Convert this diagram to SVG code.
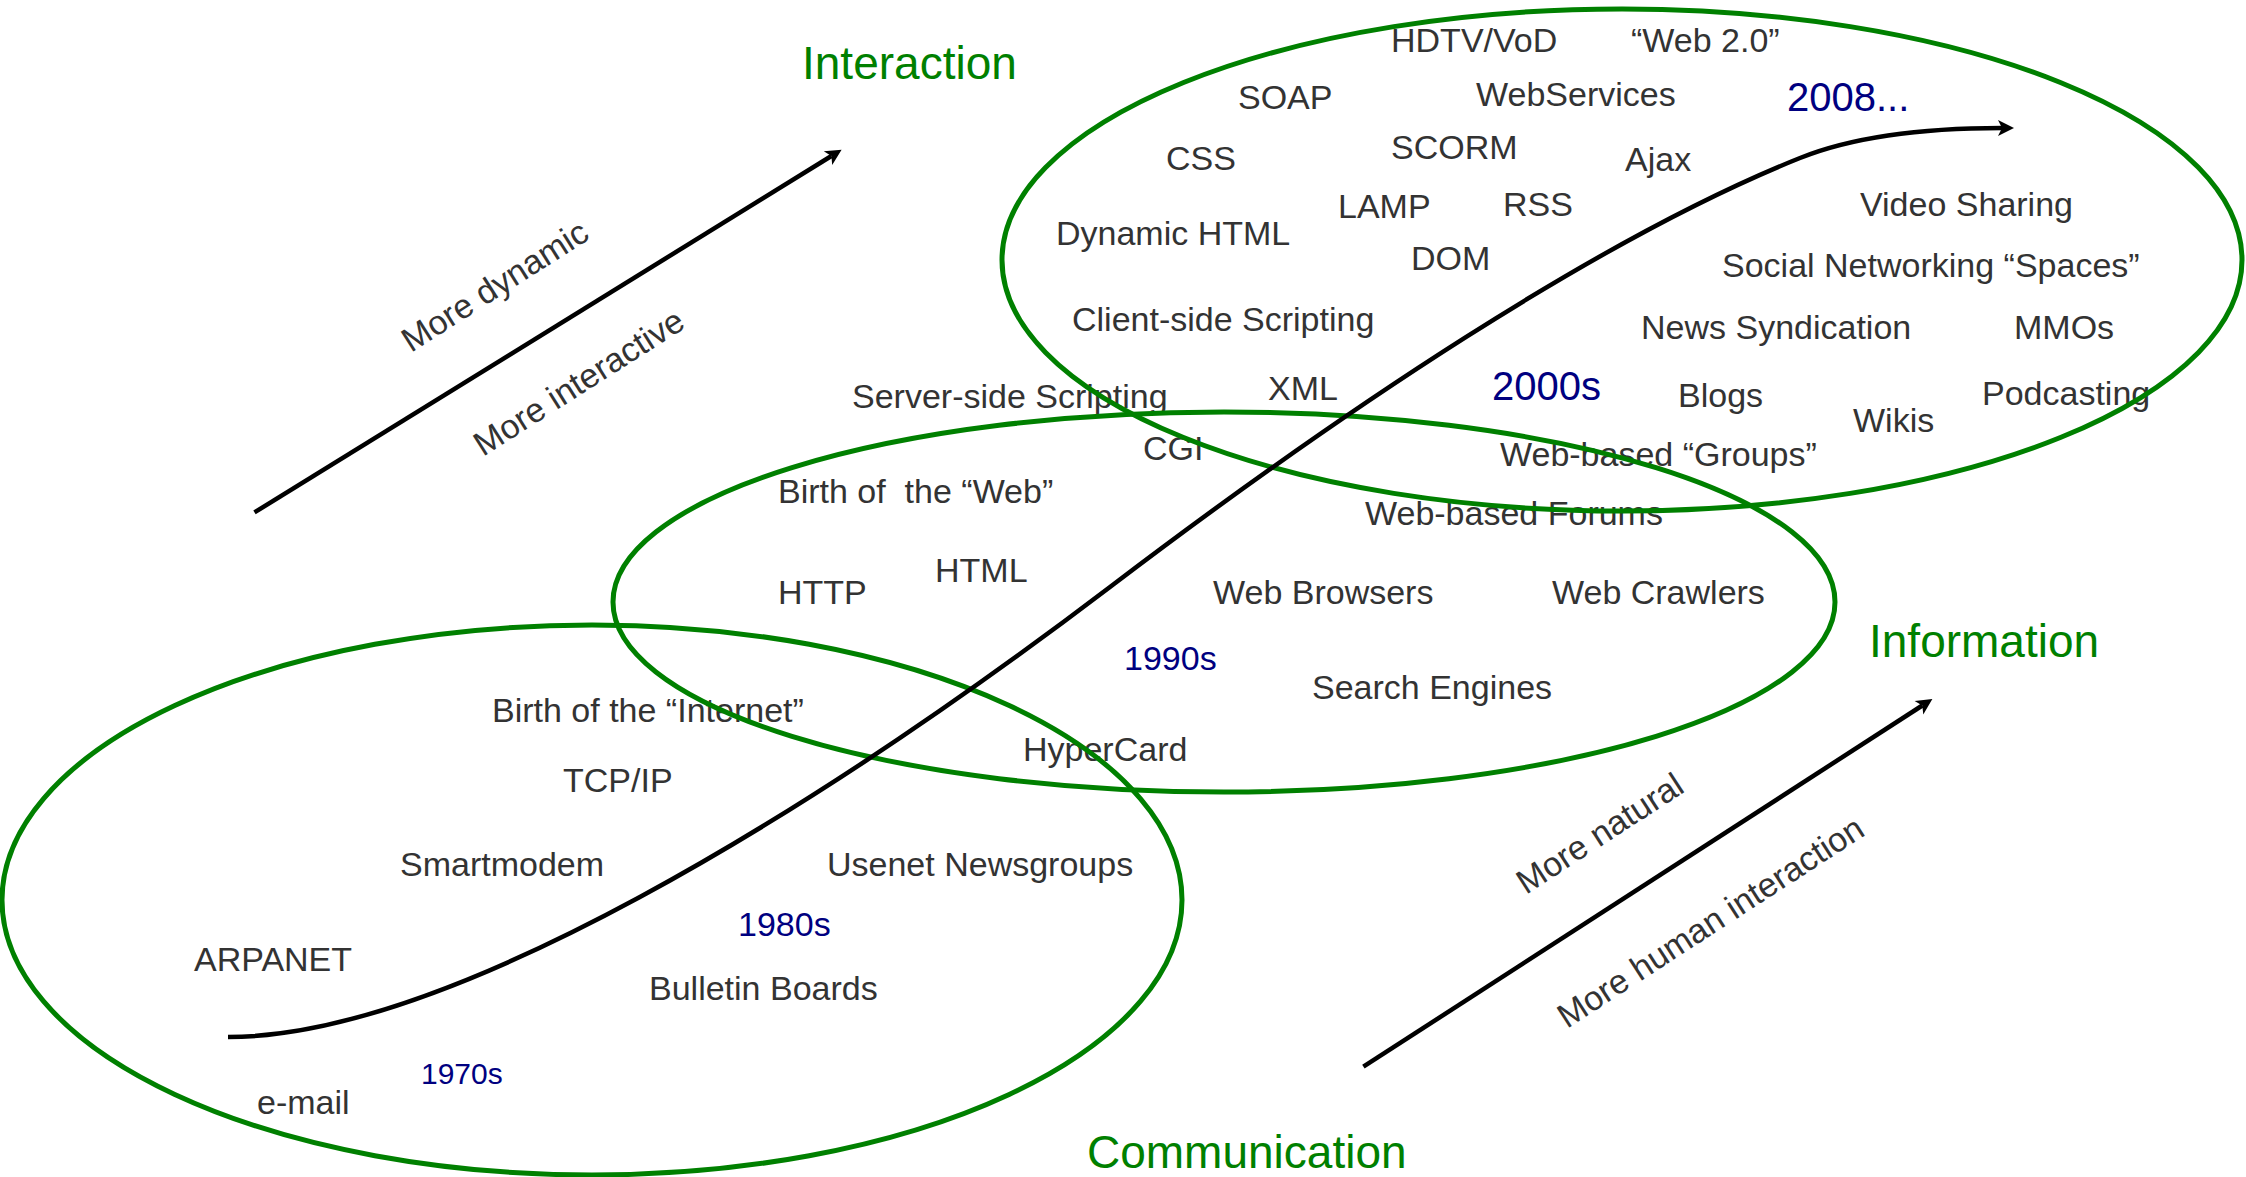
<svg xmlns="http://www.w3.org/2000/svg" width="2246" height="1177" viewBox="0 0 2246 1177">
<defs>
<style>
text{font-family:"Liberation Sans",Arial,sans-serif;white-space:pre}
.t{font-size:34px;fill:#333333}
.y{fill:#000080}
.g{font-size:46px;fill:#008000}
.era{fill:none;stroke:#008000;stroke-width:5}
.ln{fill:none;stroke:#000000;stroke-width:4.5}
</style>
<marker id="ah" markerUnits="userSpaceOnUse" markerWidth="20" markerHeight="20" viewBox="0 -10 18 20" refX="4" refY="0" orient="auto">
<path d="M0,-8 L16,0 L0,8 L4,0 Z" fill="#000000"/>
</marker>
</defs>
<rect width="2246" height="1177" fill="#ffffff"/>

<g id="labels-axes">
<text class="g" x="802" y="79">Interaction</text>
<text class="g" x="1869" y="657">Information</text>
<text class="g" x="1087" y="1168">Communication</text>
<text class="t" transform="translate(411,353) rotate(-32.5)">More dynamic</text>
<text class="t" transform="translate(483,457) rotate(-32.5)">More interactive</text>
<text class="t" transform="translate(1526,895) rotate(-33)">More natural</text>
<text class="t" transform="translate(1567,1029) rotate(-33)">More human interaction</text>
</g>

<g id="era-1970s-1980s-labels">
<text class="t" x="492" y="722">Birth of the “Internet”</text>
<text class="t" x="563" y="792">TCP/IP</text>
<text class="t" x="400" y="876">Smartmodem</text>
<text class="t" x="827" y="876">Usenet Newsgroups</text>
<text class="t y" x="738" y="936">1980s</text>
<text class="t" x="194" y="971">ARPANET</text>
<text class="t" x="649" y="1000">Bulletin Boards</text>
<text class="y" style="font-size:30px" x="421" y="1084">1970s</text>
<text class="t" x="257" y="1114">e-mail</text>
</g>

<g id="era-1990s-labels">
<text class="t" x="778" y="503">Birth of  the “Web”</text>
<text class="t" x="935" y="582">HTML</text>
<text class="t" x="778" y="604">HTTP</text>
<text class="t" x="1213" y="604">Web Browsers</text>
<text class="t" x="1552" y="604">Web Crawlers</text>
<text class="t y" x="1124" y="670">1990s</text>
<text class="t" x="1312" y="699">Search Engines</text>
<text class="t" x="1023" y="761">HyperCard</text>
<text class="t" x="852" y="408">Server-side Scripting</text>
<text class="t" x="1143" y="460">CGI</text>
<text class="t" x="1365" y="525">Web-based Forums</text>
</g>

<g id="era-2000s-labels">
<text class="t" x="1391" y="52">HDTV/VoD</text>
<text class="t" x="1631" y="52">“Web 2.0”</text>
<text class="t" x="1238" y="109">SOAP</text>
<text class="t" x="1476" y="106">WebServices</text>
<text class="y" style="font-size:40px" x="1787" y="111">2008...</text>
<text class="t" x="1166" y="170">CSS</text>
<text class="t" x="1391" y="159">SCORM</text>
<text class="t" x="1625" y="171">Ajax</text>
<text class="t" x="1338" y="218">LAMP</text>
<text class="t" x="1503" y="216">RSS</text>
<text class="t" x="1860" y="216">Video Sharing</text>
<text class="t" x="1056" y="245">Dynamic HTML</text>
<text class="t" x="1411" y="270">DOM</text>
<text class="t" x="1722" y="277">Social Networking “Spaces”</text>
<text class="t" x="1072" y="331">Client-side Scripting</text>
<text class="t" x="1641" y="339">News Syndication</text>
<text class="t" x="2014" y="339">MMOs</text>
<text class="t" x="1268" y="400">XML</text>
<text class="y" style="font-size:40px" x="1492" y="400">2000s</text>
<text class="t" x="1678" y="407">Blogs</text>
<text class="t" x="1982" y="405">Podcasting</text>
<text class="t" x="1853" y="432">Wikis</text>
<text class="t" x="1500" y="466">Web-based “Groups”</text>
</g>

<g id="ellipse-1970s-1980s"><ellipse class="era" cx="592" cy="900" rx="590" ry="275"/></g>
<g id="ellipse-1990s"><ellipse class="era" cx="1224" cy="602" rx="611" ry="190"/></g>
<g id="ellipse-2000s"><ellipse class="era" cx="1622" cy="260" rx="620" ry="251"/></g>

<g id="connectors">
<path class="ln" d="M228,1037 C448,1037 810,815 1110,587 C1340,412 1600,238 1800,158 C1860,134 1935,128 2002,128" marker-end="url(#ah)"/>
<line class="ln" x1="254.5" y1="512.4" x2="831.4" y2="156" marker-end="url(#ah)"/>
<line class="ln" x1="1363.4" y1="1066.7" x2="1922.3" y2="705.5" marker-end="url(#ah)"/>
</g>
</svg>
